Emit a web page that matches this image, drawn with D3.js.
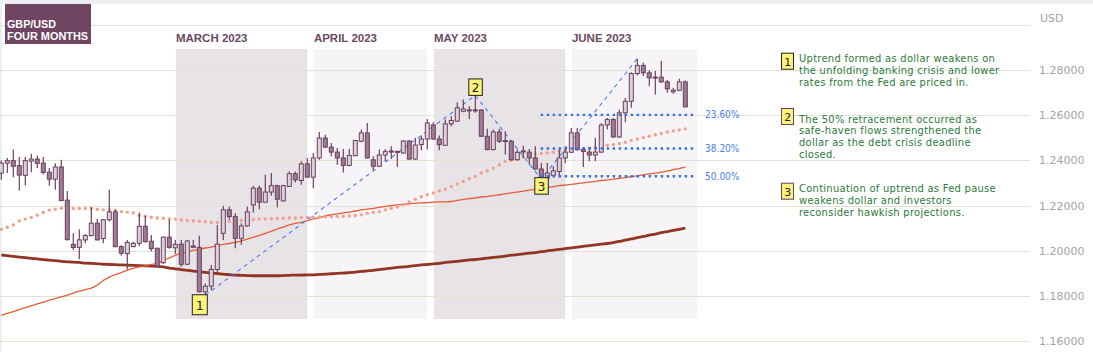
<!DOCTYPE html>
<html>
<head>
<meta charset="utf-8">
<script src="https://cdn.jsdelivr.net/npm/d3@7"></script>
<style>
  html, body { margin: 0; padding: 0; background: #fff; }
  svg { display: block; }
</style>
</head>
<body>
<svg id="chart" width="1093" height="352"></svg>
<script>
// daily GBP/USD candles
const opens = [
  1.2344,1.2388,1.2399,1.2377,1.2334,1.2397,1.2406,1.2388,1.2348,1.2317,
  1.2371,1.2224,1.2028,1.2015,1.2048,1.2067,1.2122,1.2054,1.2137,1.2172,
  1.2018,1.1987,1.2018,1.2033,1.2108,1.2042,1.2011,1.1947,1.2060,1.2013,
  1.2029,1.1940,1.2021,1.2015,1.1818,1.1843,1.1917,1.2077,1.2181,1.2151,
  1.2055,1.2110,1.2203,1.2277,1.2215,1.2260,1.2288,1.2221,1.2285,1.2341,
  1.2311,1.2385,1.2326,1.2411,1.2499,1.2459,1.2437,1.2411,1.2378,1.2421,
  1.2485,1.2522,1.2403,1.2374,1.2424,1.2442,1.2440,1.2433,1.2486,1.2406,
  1.2470,1.2495,1.2557,1.2495,1.2467,1.2562,1.2574,1.2618,1.2624,1.2624,
  1.2623,1.2507,1.2448,1.2526,1.2485,1.2485,1.2403,1.2442,1.2437,1.2411,
  1.2362,1.2322,1.2334,1.2351,1.2411,1.2436,1.2522,1.2448,1.2437,1.2424,
  1.2437,1.2557,1.2581,1.2504,1.2611,1.2662,1.2785,1.2821,1.2788,1.2769,
  1.2769,1.2748,1.2704,1.2711,1.2748
];
const highs = [
  1.2400,1.2411,1.2448,1.2415,1.2415,1.2430,1.2422,1.2415,1.2366,1.2388,
  1.2403,1.2265,1.2077,1.2095,1.2074,1.2193,1.2140,1.2140,1.2270,1.2181,
  1.2024,1.2048,1.2040,1.2169,1.2154,1.2070,1.2013,1.2063,1.2137,1.2048,
  1.2048,1.2048,1.2048,1.2066,1.1855,1.1937,1.2114,1.2199,1.2196,1.2166,
  1.2122,1.2196,1.2288,1.2288,1.2337,1.2344,1.2292,1.2292,1.2351,1.2351,
  1.2396,1.2411,1.2433,1.2526,1.2514,1.2477,1.2455,1.2451,1.2451,1.2492,
  1.2537,1.2566,1.2418,1.2448,1.2451,1.2463,1.2443,1.2489,1.2489,1.2500,
  1.2510,1.2584,1.2569,1.2510,1.2581,1.2596,1.2658,1.2670,1.2640,1.2688,
  1.2628,1.2540,1.2537,1.2540,1.2529,1.2488,1.2448,1.2465,1.2451,1.2463,
  1.2389,1.2389,1.2374,1.2448,1.2463,1.2544,1.2544,1.2460,1.2460,1.2500,
  1.2566,1.2588,1.2588,1.2625,1.2677,1.2791,1.2851,1.2833,1.2800,1.2796,
  1.2840,1.2756,1.2722,1.2762,1.2754
];
const lows = [
  1.2314,1.2344,1.2325,1.2267,1.2289,1.2348,1.2365,1.2338,1.2288,1.2270,
  1.2220,1.2045,1.2003,1.1962,1.2033,1.2063,1.2045,1.2033,1.2129,1.2015,
  1.1978,1.1917,1.2015,1.2021,1.2036,1.1996,1.1929,1.1941,1.2009,1.1985,
  1.1929,1.1937,1.2011,1.1816,1.1803,1.1826,1.1907,1.2048,1.2137,1.2011,
  1.2026,1.2107,1.2169,1.2184,1.2214,1.2243,1.2191,1.2218,1.2282,1.2302,
  1.2292,1.2322,1.2277,1.2403,1.2455,1.2418,1.2381,1.2347,1.2373,1.2418,
  1.2480,1.2408,1.2356,1.2371,1.2396,1.2406,1.2371,1.2430,1.2403,1.2403,
  1.2445,1.2448,1.2492,1.2445,1.2465,1.2551,1.2571,1.2614,1.2584,1.2611,
  1.2504,1.2445,1.2445,1.2477,1.2426,1.2400,1.2400,1.2411,1.2381,1.2359,
  1.2317,1.2319,1.2329,1.2329,1.2389,1.2433,1.2445,1.2371,1.2396,1.2396,
  1.2433,1.2537,1.2500,1.2500,1.2569,1.2633,1.2776,1.2774,1.2729,1.2692,
  1.2744,1.2700,1.2695,1.2707,1.2637
];
const closes = [
  1.2388,1.2399,1.2374,1.2335,1.2399,1.2406,1.2387,1.2347,1.2317,1.2371,
  1.2222,1.2049,1.2014,1.2048,1.2067,1.2122,1.2048,1.2137,1.2172,1.2018,
  1.1989,1.2037,1.2033,1.2108,1.2040,1.2009,1.1932,1.2060,1.2015,1.2028,
  1.1940,1.2043,1.2015,1.1818,1.1843,1.1917,1.2029,1.2181,1.2151,1.2055,
  1.2110,1.2172,1.2277,1.2215,1.2260,1.2288,1.2228,1.2288,1.2341,1.2314,
  1.2385,1.2326,1.2411,1.2499,1.2459,1.2437,1.2411,1.2378,1.2422,1.2488,
  1.2522,1.2411,1.2374,1.2424,1.2439,1.2437,1.2439,1.2486,1.2406,1.2468,
  1.2495,1.2566,1.2495,1.2470,1.2562,1.2577,1.2633,1.2628,1.2621,1.2621,
  1.2507,1.2448,1.2526,1.2485,1.2488,1.2403,1.2436,1.2439,1.2411,1.2362,
  1.2322,1.2344,1.2354,1.2411,1.2437,1.2522,1.2448,1.2440,1.2424,1.2437,
  1.2557,1.2581,1.2504,1.2611,1.2662,1.2785,1.2821,1.2788,1.2766,1.2765,
  1.2748,1.2717,1.2711,1.2748,1.2637
];

// moving averages, one value per candle
const maFast = [ // dotted salmon
  1.2095,1.2104,1.2114,1.2132,1.2140,1.2147,1.2157,1.2169,1.2180,1.2184,
  1.2188,1.2187,1.2187,1.2187,1.2187,1.2187,1.2184,1.2181,1.2180,1.2179,
  1.2173,1.2171,1.2167,1.2156,1.2153,1.2148,1.2145,1.2144,1.2141,1.2140,
  1.2136,1.2134,1.2132,1.2130,1.2128,1.2125,1.2125,1.2128,1.2130,1.2132,
  1.2134,1.2136,1.2138,1.2140,1.2141,1.2142,1.2143,1.2144,1.2145,1.2145,
  1.2147,1.2148,1.2148,1.2150,1.2151,1.2151,1.2152,1.2153,1.2154,1.2156,
  1.2159,1.2166,1.2170,1.2173,1.2181,1.2188,1.2194,1.2205,1.2216,1.2228,
  1.2239,1.2248,1.2256,1.2265,1.2273,1.2284,1.2296,1.2307,1.2319,1.2329,
  1.2344,1.2354,1.2366,1.2381,1.2396,1.2401,1.2405,1.2415,1.2421,1.2427,
  1.2431,1.2433,1.2436,1.2441,1.2444,1.2446,1.2448,1.2451,1.2455,1.2458,
  1.2462,1.2467,1.2470,1.2474,1.2480,1.2488,1.2495,1.2501,1.2507,1.2514,
  1.2519,1.2526,1.2531,1.2535,1.2540
];
const maMid = [ // thin orange-red
  1.1714,1.1722,1.1730,1.1739,1.1748,1.1756,1.1764,1.1772,1.1781,1.1788,
  1.1796,1.1803,1.1812,1.1821,1.1828,1.1834,1.1848,1.1868,1.1883,1.1894,
  1.1903,1.1914,1.1922,1.1928,1.1933,1.1939,1.1944,1.1957,1.1968,1.1979,
  1.1988,1.1994,1.2001,1.2006,1.2012,1.2016,1.2022,1.2028,1.2032,1.2037,
  1.2043,1.2051,1.2060,1.2068,1.2077,1.2086,1.2096,1.2105,1.2114,1.2121,
  1.2126,1.2133,1.2141,1.2146,1.2154,1.2159,1.2163,1.2168,1.2171,1.2176,
  1.2181,1.2184,1.2188,1.2192,1.2196,1.2200,1.2203,1.2205,1.2208,1.2210,
  1.2212,1.2213,1.2215,1.2216,1.2216,1.2218,1.2223,1.2227,1.2231,1.2234,
  1.2238,1.2240,1.2244,1.2248,1.2252,1.2256,1.2260,1.2264,1.2268,1.2272,
  1.2276,1.2280,1.2284,1.2288,1.2291,1.2294,1.2297,1.2301,1.2304,1.2307,
  1.2311,1.2314,1.2317,1.2321,1.2324,1.2328,1.2332,1.2336,1.2340,1.2344,
  1.2348,1.2353,1.2359,1.2364,1.2370
];
const maSlow = [ // thick dark brown
  1.1981,1.1978,1.1975,1.1972,1.1969,1.1966,1.1964,1.1961,1.1958,1.1956,
  1.1953,1.1951,1.1949,1.1948,1.1945,1.1944,1.1942,1.1940,1.1939,1.1938,
  1.1937,1.1936,1.1935,1.1934,1.1933,1.1932,1.1931,1.1928,1.1923,1.1920,
  1.1916,1.1913,1.1910,1.1907,1.1904,1.1901,1.1899,1.1896,1.1894,1.1892,
  1.1891,1.1890,1.1889,1.1889,1.1889,1.1889,1.1889,1.1890,1.1891,1.1892,
  1.1892,1.1893,1.1893,1.1895,1.1896,1.1898,1.1900,1.1901,1.1903,1.1905,
  1.1908,1.1911,1.1913,1.1916,1.1920,1.1923,1.1926,1.1928,1.1931,1.1934,
  1.1937,1.1939,1.1942,1.1944,1.1948,1.1951,1.1953,1.1956,1.1959,1.1961,
  1.1964,1.1967,1.1970,1.1973,1.1976,1.1980,1.1983,1.1986,1.1989,1.1992,
  1.1996,1.1999,1.2003,1.2006,1.2009,1.2013,1.2016,1.2019,1.2023,1.2026,
  1.2029,1.2032,1.2036,1.2041,1.2047,1.2052,1.2058,1.2063,1.2069,1.2074,
  1.2080,1.2085,1.2090,1.2095,1.2100
];

// month bands, in candle index units
const months = ["MARCH 2023", "APRIL 2023", "MAY 2023", "JUNE 2023"];
const monthStart = [29.1, 52.1, 72.1, 95.1];
const monthEnd = [51.0, 71.0, 94.0, 116.0];

// price axis
const priceTicks = [1.16, 1.18, 1.20, 1.22, 1.24, 1.26, 1.28];
const gridTicks = [1.16, 1.18, 1.20, 1.22, 1.24, 1.26, 1.28, 1.30];

// fibonacci zig-zag pivots (candle index) and retracement levels
const pivotIdx = [34, 79, 90, 106];
const fibLabels = ["23.60%", "38.20%", "50.00%"];
const fibLevels = [1.2602, 1.2453, 1.2330];

// numbered markers on the chart
const markerIdx = [33, 79, 90];
const markerText = ["1", "2", "3"];

// notes on the right
const notes = [
  ["Uptrend formed as dollar weakens on", "the unfolding banking crisis and lower", "rates from the Fed are priced in."],
  ["The 50% retracement occurred as", "safe-haven flows strengthened the", "dollar as the debt crisis deadline", "closed."],
  ["Continuation of uptrend as Fed pause", "weakens dollar and investors", "reconsider hawkish projections."]
];

const W = 1093, H = 352;
const svg = d3.select("#chart");

const x = d3.scaleLinear().domain([0, opens.length - 1]).range([1.3, 685.3]);
const y = d3.scaleLinear().domain([1.16, 1.30]).range([341, 25]);

const candles = opens.map((o, i) => ({ i: i, o: o, h: highs[i], l: lows[i], c: closes[i] }));

// frame
svg.append("rect").attr("width", W).attr("height", H).attr("fill", "#fff");
svg.append("rect").attr("width", W).attr("height", 4).attr("fill", "#eceef2");
svg.append("rect").attr("width", 2).attr("height", H).attr("fill", "#eceef2");

// month bands
svg.append("g").selectAll("rect")
  .data(months)
  .enter().append("rect")
  .attr("x", (d, i) => x(monthStart[i]))
  .attr("y", 49)
  .attr("width", (d, i) => x(monthEnd[i]) - x(monthStart[i]))
  .attr("height", 270)
  .attr("fill", (d, i) => i % 2 === 0 ? "#e8e3e7" : "#f6f4f6");

svg.append("g").selectAll("text")
  .data(months)
  .enter().append("text")
  .attr("x", (d, i) => x(monthStart[i]))
  .attr("y", 42)
  .attr("fill", "#6b4a63")
  .style("font", "bold 11.5px 'Liberation Sans', Arial, sans-serif")
  .text(d => d);

// grid lines
svg.append("g").selectAll("line")
  .data(gridTicks)
  .enter().append("line")
  .attr("x1", 0).attr("x2", 1030)
  .attr("y1", d => Math.round(y(d)) + 0.5)
  .attr("y2", d => Math.round(y(d)) + 0.5)
  .attr("stroke", "#e4e0d2")
  .attr("stroke-width", 1);

// price axis on the right
const axis = svg.append("g")
  .attr("transform", "translate(1039,0)")
  .call(d3.axisRight(y).tickValues(priceTicks).tickFormat(d3.format(".5f")).tickSize(0).tickPadding(0));
axis.select(".domain").remove();
axis.selectAll("text")
  .attr("fill", "#a3a3a3")
  .style("font", "11px 'DejaVu Sans', sans-serif");

svg.append("text")
  .attr("x", 1040).attr("y", 22)
  .attr("fill", "#a3a3a3")
  .style("font", "11px 'DejaVu Sans', sans-serif")
  .text("USD");

// moving averages
const line = d3.line().x((d, i) => x(i)).y(d => y(d)).curve(d3.curveMonotoneX);

svg.append("path")
  .datum(maSlow)
  .attr("d", line)
  .attr("fill", "none")
  .attr("stroke", "#8c2a17")
  .attr("stroke-width", 2.8)
  .attr("opacity", 0.95);

svg.append("path")
  .datum(maMid)
  .attr("d", line)
  .attr("fill", "none")
  .attr("stroke", "#e65c38")
  .attr("stroke-width", 1.3);

svg.append("g").selectAll("circle")
  .data(maFast)
  .enter().append("circle")
  .attr("cx", (d, i) => x(i))
  .attr("cy", d => y(d))
  .attr("r", 1.7)
  .attr("fill", "#f2a08c");

// fib zig-zag
svg.append("path")
  .datum(pivotIdx)
  .attr("d", d3.line()
    .x(d => x(d))
    .y((d, k) => k % 2 === 0 ? y(lows[d]) : y(highs[d])))
  .attr("fill", "none")
  .attr("stroke", "#3f7ef0")
  .attr("stroke-width", 1.1)
  .attr("stroke-dasharray", "4,4");

// candles
const cg = svg.append("g");
cg.selectAll("line")
  .data(candles)
  .enter().append("line")
  .attr("x1", d => x(d.i)).attr("x2", d => x(d.i))
  .attr("y1", d => y(d.h)).attr("y2", d => y(d.l))
  .attr("stroke", "#6a3f5f")
  .attr("stroke-width", 1.2);

cg.selectAll("rect")
  .data(candles)
  .enter().append("rect")
  .attr("x", d => x(d.i) - 2)
  .attr("y", d => y(Math.max(d.o, d.c)))
  .attr("width", 4)
  .attr("height", d => Math.max(1, Math.abs(y(d.o) - y(d.c))))
  .attr("fill", d => d.c >= d.o ? "#ddd2da" : "#9c7b93")
  .attr("stroke", "#6a3f5f")
  .attr("stroke-width", 1);

// fib levels
const fibStart = 89.9, fibEnd = 115.3;
svg.append("g").selectAll("line")
  .data(fibLevels)
  .enter().append("line")
  .attr("x1", x(fibStart)).attr("x2", x(fibEnd))
  .attr("y1", d => y(d)).attr("y2", d => y(d))
  .attr("stroke", "#2f6ff0")
  .attr("stroke-width", 2.4)
  .attr("stroke-dasharray", "2.4,3.6");

svg.append("g").selectAll("text")
  .data(fibLevels)
  .enter().append("text")
  .attr("x", x(fibEnd) + 12)
  .attr("y", d => y(d) + 3.5)
  .attr("fill", "#4a7ff0")
  .style("font", "10px 'DejaVu Sans Condensed', 'DejaVu Sans', sans-serif")
  .text((d, i) => fibLabels[i]);

// numbered markers on candles
const mg = svg.append("g").selectAll("g")
  .data(markerIdx)
  .enter().append("g")
  .attr("transform", (d, k) => {
    if (k === 0) return "translate(" + (x(d) - 7.5) + "," + (y(lows[d]) + 2) + ")";
    if (k === 1) return "translate(" + (x(d) - 7) + "," + (y(highs[d]) - 17) + ")";
    return "translate(" + (x(d) - 7) + "," + (y(lows[d]) - 2) + ")";
  });
mg.append("rect")
  .attr("x", 0.5).attr("y", 0.5)
  .attr("width", (d, k) => k === 0 ? 15 : 13.5)
  .attr("height", (d, k) => k === 0 ? 20 : 16.5)
  .attr("fill", "#fdf27a")
  .attr("stroke", "#222")
  .attr("stroke-width", 1);
mg.append("text")
  .attr("x", (d, k) => k === 0 ? 8 : 7.2)
  .attr("y", (d, k) => k === 0 ? 15.5 : 13.5)
  .attr("text-anchor", "middle")
  .attr("fill", "#222")
  .style("font", "12px 'DejaVu Sans', sans-serif")
  .text((d, k) => markerText[k]);

// title block
svg.append("rect")
  .attr("x", 5).attr("y", 4)
  .attr("width", 86).attr("height", 40)
  .attr("fill", "#6f4562");
svg.append("text")
  .attr("x", 7).attr("y", 28)
  .attr("fill", "#fff")
  .attr("textLength", 49)
  .attr("lengthAdjust", "spacingAndGlyphs")
  .style("font", "bold 11.5px 'Liberation Sans', Arial, sans-serif")
  .text("GBP/USD");
svg.append("text")
  .attr("x", 7).attr("y", 40)
  .attr("fill", "#fff")
  .attr("textLength", 81)
  .attr("lengthAdjust", "spacingAndGlyphs")
  .style("font", "bold 11.5px 'Liberation Sans', Arial, sans-serif")
  .text("FOUR MONTHS");

// notes
const noteTop = [52.7, 108, 182.7];
const noteBorder = ["#222", "#6a3f5f", "#6a3f5f"];
const ng = svg.append("g").selectAll("g")
  .data(notes)
  .enter().append("g")
  .attr("transform", (d, i) => "translate(781," + noteTop[i] + ")");
ng.append("rect")
  .attr("x", 0.5).attr("y", 0.5)
  .attr("width", 12).attr("height", 16)
  .attr("fill", "#fdf27a")
  .attr("stroke", (d, i) => noteBorder[i]);
ng.append("text")
  .attr("x", 6.7).attr("y", 13)
  .attr("text-anchor", "middle")
  .attr("fill", "#222")
  .style("font", "11px 'DejaVu Sans', sans-serif")
  .text((d, i) => markerText[i]);
ng.each(function(d, i) {
  const t = d3.select(this).append("text")
    .attr("fill", "#2c7a3c")
    .style("font", "11px 'DejaVu Sans Condensed', 'Liberation Sans', sans-serif")
    .style("letter-spacing", "0.3px");
  t.selectAll("tspan")
    .data(d)
    .enter().append("tspan")
    .attr("x", 18)
    .attr("y", (s, j) => (i === 1 ? 14.5 : 9.5) + j * 11.8)
    .text(s => s);
});
</script>
</body>
</html>
